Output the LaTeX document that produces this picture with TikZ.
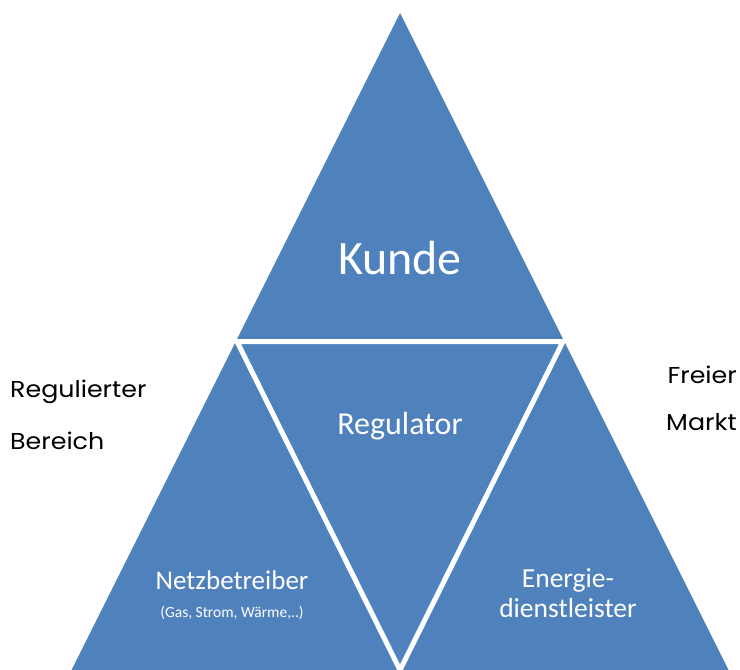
\documentclass[tikz,border=0pt]{standalone}
\usepackage{fontspec}
\setmainfont{Carlito}
\newfontfamily\gothicfont[FakeStretch=1.1]{Poppins}
\usetikzlibrary{positioning}

\definecolor{pyrblue}{HTML}{4F81BD}

\begin{document}
\begin{tikzpicture}[x=1pt, y=-1pt,
    label/.style={text=white, inner sep=0pt},
    side/.style={font=\gothicfont\fontsize{23}{26}\selectfont, inner sep=0pt},
    gap/.style={draw=white, line width=5pt, line join=miter}]
        \useasboundingbox (0,0) rectangle (740,670);
        \clip (0,0) rectangle (740,670);

        \coordinate (top) at (400,13);
        \coordinate (bl) at (71.5,670);
        \coordinate (br) at (728.5,670);
        \coordinate (ml) at (237,341.5);
        \coordinate (mr) at (563,341.5);
        \coordinate (mb) at (400,670);

        % big triangle, cut into four by the white gaps
        \fill[pyrblue] (top) -- (br) -- (bl) -- cycle;
        \draw[gap] (ml) -- (mr) -- (mb) -- cycle;

        \node[label, font=\fontsize{48}{52}\selectfont] (kunde) at (400,258) {Kunde};
        \node[label, font=\fontsize{32}{36}\selectfont] (regulator) at (400,426) {Regulator};
        \node[label, font=\fontsize{27}{30}\selectfont] (netz) at (232,580) {Netzbetreiber};
        \node[label, font=\fontsize{15.5}{18}\selectfont, below=33pt of netz.center, anchor=center] (netzsub) {(Gas, Strom, Wärme,..)};
        \node[label, font=\fontsize{27.5}{30}\selectfont, align=center] (energie) at (568,593) {Energie-\\dienstleister};

        \node[side, anchor=west] (reg) at (10,392) {Regulierter};
        \node[side, anchor=west] (bereich) at (10,441) {Bereich};
        \node[side, anchor=east] (freier) at (737,375) {Freier};
        \node[side, anchor=east] (markt) at (737,422) {Markt};
\end{tikzpicture}
\end{document}
